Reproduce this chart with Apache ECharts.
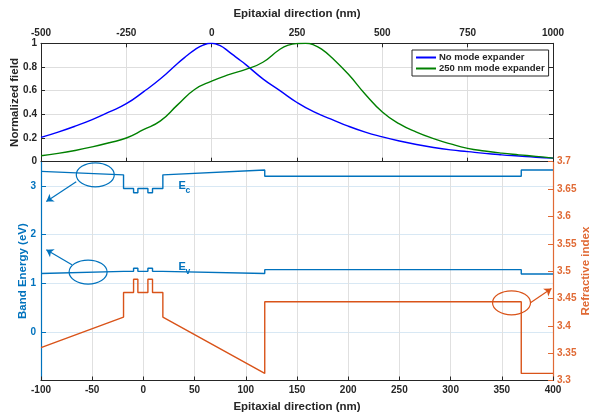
<!DOCTYPE html>
<html>
<head>
<meta charset="utf-8">
<script src="https://cdn.jsdelivr.net/npm/echarts@6/dist/echarts.min.js"></script>
<style>
html,body{margin:0;padding:0;background:#fff;}
#chart{width:592px;height:416px;}
</style>
</head>
<body>
<div id="chart"></div>
<script>
// top panel: normalized field vs epitaxial position (nm)
const blueX = [-500,-450,-400,-350,-300,-250,-200,-150,-100,-75,-50,-25,0,25,50,75,100,150,200,250,300,350,400,450,500,550,600,650,700,750,800,850,900,950,1000];
const noExpander = [0.205,0.25,0.30,0.355,0.42,0.49,0.59,0.70,0.83,0.89,0.945,0.985,1.0,0.98,0.93,0.875,0.82,0.70,0.60,0.50,0.42,0.36,0.30,0.25,0.21,0.175,0.145,0.12,0.10,0.085,0.07,0.058,0.048,0.038,0.03];
const greenX = [-500,-450,-400,-350,-300,-250,-200,-150,-100,-50,0,50,100,150,200,225,250,275,300,325,350,400,450,500,550,600,650,700,750,800,850,900,950,1000];
const withExpander = [0.05,0.07,0.095,0.125,0.16,0.20,0.27,0.345,0.48,0.61,0.68,0.735,0.78,0.84,0.95,0.985,0.998,1.0,0.985,0.945,0.885,0.74,0.57,0.42,0.32,0.25,0.195,0.15,0.113,0.09,0.072,0.058,0.045,0.03];

// bottom panel: band edges and refractive index (shared breakpoints)
const layerX = [-100,-19.4,-19.4,-9.6,-9.6,-5.4,-5.4,4.4,4.4,8.9,8.9,19,19,118.5,118.5,369,369,400];
const ecVals = [3.30,3.23,2.95,2.95,2.86,2.86,2.95,2.95,2.86,2.86,2.95,2.95,3.23,3.33,3.20,3.20,3.33,3.33];
const evVals = [1.20,1.245,1.245,1.245,1.31,1.31,1.245,1.245,1.31,1.31,1.245,1.245,1.245,1.20,1.28,1.28,1.19,1.19];
const nVals  = [3.36,3.416,3.461,3.461,3.485,3.485,3.461,3.461,3.485,3.485,3.461,3.461,3.416,3.313,3.444,3.444,3.313,3.313];

// annotations (data coords)
const ecCircle = [-47, 3.23];
const evCircle = [-54, 1.23];
const nCircle = [359.5, 3.442];
const ecArrow = [[-65.6, 3.09], [-94.8, 2.68]];
const evArrow = [[-69.8, 1.38], [-94.8, 1.69]];
const nArrow = [[378, 3.442], [398.5, 3.468]];
const ecLabelPos = [34.2, 3.0];
const evLabelPos = [34.2, 1.335];

const FONT = 'Liberation Sans';
const BLUE = '#0072BD';
const ORANGE = '#D95319';
const ORANGE_AX = '#E06A35';
const DARK = '#262626';

const pairs = (xs, ys) => xs.map((x, i) => [x, ys[i]]);
const plain = v => String(+v.toFixed(2));

const labelStyle = {fontFamily: FONT, fontWeight: 'bold', fontSize: 10, color: DARK, formatter: plain};
const nameStyle = {fontFamily: FONT, fontWeight: 'bold', fontSize: 11.5, color: DARK};
const line = color => ({onZero: false, show: true, lineStyle: {color: color, width: 1}});

const chart = echarts.init(document.getElementById('chart'));

chart.setOption({
    animation: false,
    backgroundColor: '#fff',
    grid: [
        {left: 41, right: 39, top: 43.3, height: 118.4, containLabel: false, outerBoundsMode: 'none'},
        {left: 41, right: 39, top: 161.7, height: 218.8, containLabel: false, outerBoundsMode: 'none'}
    ],
    legend: {
        data: ['No mode expander', '250 nm mode expander'],
        orient: 'vertical',
        left: 412, top: 50,
        padding: [2, 4, 2, 4],
        itemGap: 0,
        itemWidth: 20, itemHeight: 2,
        icon: 'rect',
        borderColor: DARK, borderWidth: 1,
        backgroundColor: '#fff',
        textStyle: {fontFamily: FONT, fontWeight: 'bold', fontSize: 9.5, color: DARK, lineHeight: 11, padding: [0, 0, 0, -2]}
    },
    xAxis: [
        {
            type: 'value', gridIndex: 0, position: 'top',
            min: -500, max: 1000, interval: 250,
            name: 'Epitaxial direction (nm)', nameLocation: 'middle', nameGap: 23,
            nameTextStyle: nameStyle,
            axisLine: line(DARK),
            axisTick: {inside: true, length: 4, lineStyle: {color: DARK}},
            axisLabel: Object.assign({margin: 5}, labelStyle),
            splitLine: {lineStyle: {color: '#dedede'}}
        },
        {
            type: 'value', gridIndex: 0, position: 'bottom',
            min: -500, max: 1000, interval: 250,
            axisLine: line(DARK),
            axisTick: {inside: true, length: 4, lineStyle: {color: DARK}},
            axisLabel: {show: false},
            splitLine: {show: false}
        },
        {
            type: 'value', gridIndex: 1, position: 'bottom',
            min: -100, max: 400, interval: 50,
            name: 'Epitaxial direction (nm)', nameLocation: 'middle', nameGap: 20,
            nameTextStyle: nameStyle,
            axisLine: line(DARK),
            axisTick: {inside: true, length: 4, lineStyle: {color: DARK}},
            axisLabel: Object.assign({margin: 5}, labelStyle),
            splitLine: {lineStyle: {color: '#e0e0e0'}}
        }
    ],
    yAxis: [
        {
            type: 'value', gridIndex: 0, position: 'left',
            min: 0, max: 1, interval: 0.2,
            name: 'Normalized field', nameLocation: 'middle', nameGap: 20, nameRotate: 90,
            nameMoveOverlap: false,
            nameTextStyle: nameStyle,
            axisLine: line(DARK),
            axisTick: {show: true, inside: true, length: 4, lineStyle: {color: DARK}},
            axisLabel: Object.assign({margin: 4}, labelStyle),
            splitLine: {lineStyle: {color: '#dedede'}}
        },
        {
            type: 'value', gridIndex: 0, position: 'right',
            min: 0, max: 1, interval: 0.2,
            axisLine: line(DARK),
            axisTick: {show: true, inside: true, length: 4, lineStyle: {color: DARK}},
            axisLabel: {show: false},
            splitLine: {show: false}
        },
        {
            type: 'value', gridIndex: 1, position: 'left',
            min: -1, max: 3.5, interval: 1,
            name: 'Band Energy (eV)', nameLocation: 'middle', nameGap: 12, nameRotate: 90,
            nameMoveOverlap: false,
            nameTextStyle: Object.assign({}, nameStyle, {color: BLUE}),
            axisLine: {onZero: false, show: true, lineStyle: {color: BLUE, width: 1.2}},
            axisTick: {show: true, inside: true, length: 5, lineStyle: {color: BLUE}},
            axisLabel: Object.assign({margin: 5, showMinLabel: false, showMaxLabel: false}, labelStyle, {color: BLUE}),
            splitLine: {lineStyle: {color: '#d8e8f4'}}
        },
        {
            type: 'value', gridIndex: 1, position: 'right',
            min: 3.3, max: 3.7, interval: 0.05,
            name: 'Refractive index', nameLocation: 'middle', nameGap: 27, nameRotate: 90,
            nameMoveOverlap: false,
            nameTextStyle: Object.assign({}, nameStyle, {color: ORANGE_AX}),
            axisLine: {onZero: false, show: true, lineStyle: {color: ORANGE_AX, width: 1.2}},
            axisTick: {show: true, inside: true, length: 5, lineStyle: {color: ORANGE_AX}},
            axisLabel: Object.assign({margin: 4}, labelStyle, {color: ORANGE_AX}),
            splitLine: {show: false}
        }
    ],
    series: [
        {
            name: 'No mode expander', type: 'line', xAxisIndex: 0, yAxisIndex: 0,
            data: pairs(blueX, noExpander), smooth: true, showSymbol: false,
            color: '#0000FF', lineStyle: {width: 1.4}
        },
        {
            name: '250 nm mode expander', type: 'line', xAxisIndex: 0, yAxisIndex: 0,
            data: pairs(greenX, withExpander), smooth: true, showSymbol: false,
            color: '#008000', lineStyle: {width: 1.4}
        },
        {
            name: 'Ec', type: 'line', xAxisIndex: 2, yAxisIndex: 2,
            data: pairs(layerX, ecVals), showSymbol: false,
            color: BLUE, lineStyle: {width: 1.4},
            markLine: {
                silent: true, symbol: ['none', 'arrow'], symbolSize: 7,
                lineStyle: {color: BLUE, width: 1.2, type: 'solid'}, label: {show: false},
                data: [[{coord: ecArrow[0]}, {coord: ecArrow[1]}]]
            }
        },
        {
            name: 'Ev', type: 'line', xAxisIndex: 2, yAxisIndex: 2,
            data: pairs(layerX, evVals), showSymbol: false,
            color: BLUE, lineStyle: {width: 1.4},
            markLine: {
                silent: true, symbol: ['none', 'arrow'], symbolSize: 7,
                lineStyle: {color: BLUE, width: 1.2, type: 'solid'}, label: {show: false},
                data: [[{coord: evArrow[0]}, {coord: evArrow[1]}]]
            }
        },
        {
            name: 'n', type: 'line', xAxisIndex: 2, yAxisIndex: 3,
            data: pairs(layerX, nVals), showSymbol: false,
            color: ORANGE, lineStyle: {width: 1.4},
            markLine: {
                silent: true, symbol: ['none', 'arrow'], symbolSize: 7,
                lineStyle: {color: ORANGE, width: 1.2, type: 'solid'}, label: {show: false},
                data: [[{coord: nArrow[0]}, {coord: nArrow[1]}]]
            }
        }
    ]
});

// ellipses and band labels placed from data coords
const px = (yIdx, p) => chart.convertToPixel({xAxisIndex: 2, yAxisIndex: yIdx}, p);
const ellipse = (c, color) => ({
    type: 'ellipse', silent: true,
    shape: {cx: c[0], cy: c[1], rx: 19, ry: 12},
    style: {fill: 'none', stroke: color, lineWidth: 1.2}
});
const bandLabel = (p, sub) => ({
    type: 'group', x: p[0], y: p[1],
    children: [
        {type: 'text', x: 0, y: 0, style: {text: 'E', font: 'bold 11px ' + FONT, fill: BLUE, textVerticalAlign: 'middle'}},
        {type: 'text', x: 7, y: 5, style: {text: sub, font: 'bold 8.5px ' + FONT, fill: BLUE, textVerticalAlign: 'middle'}}
    ]
});
const ecC = px(2, ecCircle), evC = px(2, evCircle), nC = px(3, nCircle);
chart.setOption({
    graphic: [
        ellipse(ecC, BLUE),
        ellipse(evC, BLUE),
        ellipse(nC, ORANGE),
        bandLabel(px(2, ecLabelPos), 'c'),
        bandLabel(px(2, evLabelPos), 'v')
    ]
});
</script>
</body>
</html>
